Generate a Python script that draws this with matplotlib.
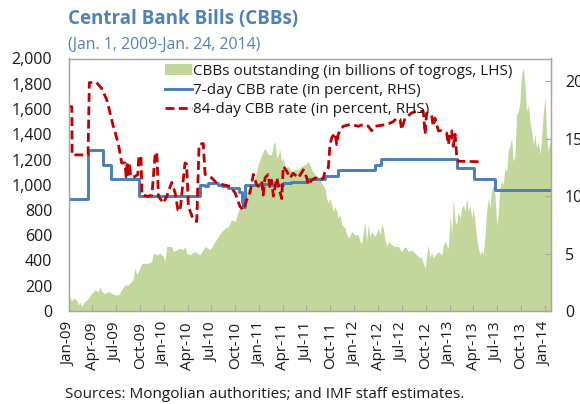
import matplotlib
matplotlib.use("Agg")
import matplotlib.pyplot as plt
import matplotlib.dates as mdates
import matplotlib.ticker as mticker
import pandas as pd

plt.rcParams['font.family'] = ['Open Sans', 'DejaVu Sans']

# CBBs outstanding (billions of togrogs, LHS)
cbb_dates = [
    "2009-01-01", "2009-01-11", "2009-01-18", "2009-01-30", "2009-02-06", "2009-02-12", "2009-02-19",
    "2009-02-25", "2009-03-03", "2009-03-16", "2009-03-29", "2009-04-11", "2009-04-23", "2009-04-30",
    "2009-05-06", "2009-05-19", "2009-06-01", "2009-06-14", "2009-06-26", "2009-07-09", "2009-07-22",
    "2009-08-04", "2009-08-16", "2009-08-29", "2009-09-05", "2009-09-11", "2009-09-18", "2009-09-30",
    "2009-10-07", "2009-11-01", "2009-11-14", "2009-11-20", "2009-12-03", "2009-12-16", "2009-12-29",
    "2010-01-04", "2010-01-11", "2010-01-30", "2010-02-05", "2010-02-18", "2010-03-03", "2010-03-15",
    "2010-03-22", "2010-03-28", "2010-04-10", "2010-04-29", "2010-05-18", "2010-06-07", "2010-06-26",
    "2010-07-15", "2010-07-28", "2010-08-10", "2010-08-22", "2010-09-04", "2010-09-17", "2010-09-30",
    "2010-10-12", "2010-10-25", "2010-11-07", "2010-11-20", "2010-12-03", "2010-12-15", "2010-12-28",
    "2011-01-10", "2011-01-23", "2011-02-04", "2011-02-17", "2011-02-24", "2011-03-02", "2011-03-09",
    "2011-03-15", "2011-03-21", "2011-03-28", "2011-04-03", "2011-04-10", "2011-04-22", "2011-05-05",
    "2011-05-18", "2011-05-31", "2011-06-13", "2011-06-25", "2011-07-08", "2011-07-21", "2011-08-03",
    "2011-08-15", "2011-08-28", "2011-09-10", "2011-09-16", "2011-09-23", "2011-09-29", "2011-10-06",
    "2011-10-12", "2011-10-18", "2011-10-25", "2011-10-31", "2011-11-07", "2011-11-13", "2011-11-26",
    "2011-12-02", "2011-12-09", "2011-12-21", "2012-01-03", "2012-01-16", "2012-01-22", "2012-01-29",
    "2012-02-10", "2012-02-17", "2012-02-23", "2012-03-01", "2012-03-07", "2012-03-20", "2012-04-02",
    "2012-04-08", "2012-04-14", "2012-04-21", "2012-04-27", "2012-05-04", "2012-05-10", "2012-05-23",
    "2012-06-04", "2012-06-17", "2012-06-30", "2012-07-13", "2012-07-26", "2012-08-07", "2012-08-20",
    "2012-09-02", "2012-09-15", "2012-09-28", "2012-10-10", "2012-10-17", "2012-10-23", "2012-10-29",
    "2012-11-05", "2012-11-18", "2012-12-01", "2012-12-07", "2012-12-13", "2012-12-26", "2013-01-02",
    "2013-01-08", "2013-01-14", "2013-01-21", "2013-01-27", "2013-02-02", "2013-02-09", "2013-02-15",
    "2013-02-22", "2013-02-28", "2013-03-07", "2013-03-13", "2013-03-19", "2013-03-26", "2013-04-01",
    "2013-04-07", "2013-04-14", "2013-04-20", "2013-04-27", "2013-05-03", "2013-05-09", "2013-05-16",
    "2013-05-22", "2013-05-28", "2013-06-04", "2013-06-10", "2013-06-17", "2013-06-23", "2013-06-30",
    "2013-07-06", "2013-07-12", "2013-07-19", "2013-07-25", "2013-07-31", "2013-08-07", "2013-08-13",
    "2013-08-20", "2013-08-26", "2013-09-01", "2013-09-08", "2013-09-14", "2013-09-21", "2013-09-27",
    "2013-10-03", "2013-10-10", "2013-10-16", "2013-10-22", "2013-10-29", "2013-11-04", "2013-11-11",
    "2013-11-17", "2013-11-23", "2013-11-30", "2013-12-06", "2013-12-13", "2013-12-19", "2013-12-25",
    "2014-01-01", "2014-01-07", "2014-01-13", "2014-01-20", "2014-01-24",
]
cbb_vals = [
    127, 74, 103, 87, 48, 70, 34,
    60, 74, 101, 140, 167, 153, 193,
    153, 140, 153, 140, 127, 127, 167,
    206, 206, 233, 259, 339, 286, 339,
    378, 378, 392, 458, 444, 458, 431,
    391, 511, 511, 471, 484, 498, 484,
    511, 458, 445, 471, 444, 511, 484,
    550, 590, 630, 656, 669, 722, 709,
    788, 841, 921, 974, 974, 1053, 1159,
    1238, 1291, 1238, 1238, 1318, 1344, 1212,
    1238, 1278, 1185, 1212, 1133, 1145, 1106,
    1120, 1120, 1145, 1159, 1185, 1120, 1080,
    1066, 1013, 974, 894, 855, 894, 841,
    788, 828, 788, 736, 762, 683, 656,
    616, 577, 630, 603, 603, 550, 537,
    709, 550, 683, 590, 630, 590, 656,
    603, 683, 656, 563, 511, 550, 524,
    511, 511, 471, 511, 471, 484, 458,
    431, 418, 340, 524, 418, 471, 418,
    444, 471, 444, 524, 550, 497, 762,
    603, 894, 709, 683, 788, 736, 815,
    841, 788, 894, 788, 841, 736, 815,
    709, 577, 498, 444, 484, 444, 603,
    788, 894, 815, 947, 1000, 920, 683,
    788, 974, 1026, 1000, 1133, 1106, 1264,
    1318, 1370, 1185, 1238, 1556, 1582, 1661,
    1873, 1926, 1794, 1582, 1635, 1503, 1423,
    1318, 1397, 1291, 1344, 1238, 1370, 1556,
    1700, 1397, 1264, 1344, 1291,
]

# 7-day CBB rate (percent, RHS), step changes
rate7_dates = [
    "2009-01-01", "2009-03-14", "2009-05-12", "2009-06-13", "2009-09-25", "2010-05-18", "2010-06-07",
    "2010-06-20", "2010-07-28", "2010-08-10", "2010-09-04", "2010-10-15", "2010-10-25", "2010-11-01",
    "2010-11-08", "2011-01-01", "2011-02-17", "2011-04-01", "2011-05-01", "2011-07-08", "2011-09-10",
    "2011-10-31", "2012-03-20", "2012-04-12", "2013-01-30", "2013-04-04", "2013-06-23", "2014-01-24",
]
rate7_vals = [
    9.75, 14.0, 12.75, 11.5, 10.0, 11.0, 10.9,
    11.15, 11.0, 10.85, 10.7, 10.4, 9.5, 9.1,
    11.0, 11.1, 11.0, 11.15, 11.25, 11.5, 11.8,
    12.25, 12.75, 13.25, 12.5, 11.5, 10.5, 10.5,
]

# 84-day CBB rate (percent, RHS)
rate84_dates = [
    "2009-01-01", "2009-01-12", "2009-01-13", "2009-03-15", "2009-03-20", "2009-04-17", "2009-05-06",
    "2009-05-26", "2009-06-20", "2009-07-09", "2009-07-22", "2009-08-04", "2009-08-08", "2009-08-12",
    "2009-08-17", "2009-08-21", "2009-08-26", "2009-09-10", "2009-09-22", "2009-09-26", "2009-10-04",
    "2009-10-08", "2009-11-01", "2009-11-15", "2009-11-28", "2009-12-04", "2009-12-10", "2009-12-29",
    "2010-01-11", "2010-01-30", "2010-02-12", "2010-02-23", "2010-03-03", "2010-03-22", "2010-03-28",
    "2010-04-04", "2010-04-23", "2010-05-06", "2010-05-15", "2010-05-31", "2010-06-07", "2010-07-02",
    "2010-07-22", "2010-08-16", "2010-09-11", "2010-09-30", "2010-10-19", "2010-11-01", "2010-11-14",
    "2010-11-26", "2010-12-09", "2010-12-22", "2010-12-28", "2011-01-10", "2011-01-16", "2011-01-23",
    "2011-02-04", "2011-02-11", "2011-02-17", "2011-02-24", "2011-03-09", "2011-03-21", "2011-03-28",
    "2011-04-03", "2011-04-16", "2011-04-29", "2011-05-11", "2011-05-31", "2011-06-19", "2011-07-02",
    "2011-07-08", "2011-07-21", "2011-08-03", "2011-08-22", "2011-09-04", "2011-09-10", "2011-09-23",
    "2011-09-29", "2011-10-06", "2011-10-18", "2011-10-25", "2011-10-31", "2011-11-07", "2011-11-19",
    "2011-12-15", "2012-01-16", "2012-02-04", "2012-02-23", "2012-03-07", "2012-03-20", "2012-05-04",
    "2012-05-29", "2012-06-11", "2012-06-24", "2012-06-30", "2012-07-13", "2012-08-07", "2012-08-26",
    "2012-09-21", "2012-09-28", "2012-10-04", "2012-10-23", "2012-10-29", "2012-11-05", "2012-11-18",
    "2012-12-01", "2012-12-20", "2012-12-26", "2013-01-02", "2013-01-08", "2013-01-14", "2013-01-21",
    "2013-01-27", "2013-02-02", "2013-05-03",
]
rate84_vals = [
    17.8, 17.8, 13.6, 13.6, 19.9, 19.9, 19.4,
    18.4, 16.1, 14.6, 12.9, 12.9, 11.7, 12.9,
    11.7, 12.9, 11.7, 11.7, 11.9, 13.5, 13.5,
    10.1, 10.0, 10.1, 13.8, 13.8, 10.0, 9.4,
    10.0, 11.2, 10.3, 8.8, 8.7, 12.9, 12.8,
    9.1, 7.95, 7.8, 14.5, 14.6, 11.9, 11.6,
    11.15, 11.0, 10.86, 10.3, 9.1, 8.8, 9.7,
    10.3, 11.9, 11.0, 10.86, 11.3, 10.1, 11.6,
    11.9, 10.7, 11.4, 10.0, 11.6, 10.4, 9.8,
    12.6, 12.2, 11.6, 12.0, 11.6, 12.3, 11.6,
    11.0, 11.4, 11.6, 11.4, 11.6, 12.2, 12.5,
    14.5, 15.1, 15.5, 14.5, 15.4, 15.7, 16.1,
    16.25, 16.1, 16.25, 16.1, 15.7, 16.1, 16.25,
    16.5, 16.8, 16.7, 15.8, 16.8, 17.25, 17.4,
    17.4, 15.4, 17.25, 17.1, 16.1, 16.8, 15.7,
    15.7, 15.5, 14.5, 15.4, 15.7, 14.35, 15.4,
    13.6, 13.05, 13.0,
]

green = "#c3d69b"
blue = "#4a7ebb"
red = "#c00000"
edge = "#a6a6a6"
title_blue = "#4f81bd"
txt = "#1a1a1a"

fig = plt.figure(figsize=(5.8, 4.04), dpi=100)
ax1 = fig.add_axes([69 / 580, 1 - 311 / 404, (551 - 69) / 580, (311 - 58.5) / 404])
ax2 = ax1.twinx()

x_cbb = pd.to_datetime(cbb_dates)
area = ax1.fill_between(x_cbb, 0, cbb_vals, color=green, lw=0,
                        label="CBBs outstanding (in billions of togrogs, LHS)")
l7, = ax2.plot(pd.to_datetime(rate7_dates), rate7_vals, color=blue, lw=2.1,
               drawstyle="steps-post", label="7-day CBB rate (in percent, RHS)")
l84, = ax2.plot(pd.to_datetime(rate84_dates), rate84_vals, color=red, lw=2.0,
                dashes=(3.2, 1.6), label="84-day CBB rate (in percent, RHS)")

ax1.set_xlim(pd.Timestamp("2009-01-01"), pd.Timestamp("2014-01-24"))
ax1.set_ylim(0, 2000)
ax1.set_yticks(range(0, 2001, 200))
ax1.yaxis.set_major_formatter(mticker.FuncFormatter(lambda v, p: f"{int(v):,}"))
ax2.set_ylim(0, 22)
ax2.set_yticks([0, 5, 10, 15, 20])

ax1.xaxis.set_major_locator(mdates.MonthLocator(bymonth=[1, 4, 7, 10]))
ax1.xaxis.set_major_formatter(mdates.DateFormatter("%b-%y"))
ax1.tick_params(axis="x", direction="in", length=4, color=edge, labelrotation=90,
                labelsize=11, pad=8, labelcolor=txt)
ax1.tick_params(axis="y", length=0, labelsize=11.5, pad=12, labelcolor=txt)
ax2.tick_params(axis="y", direction="in", length=4, color=edge, labelsize=11.5, pad=10,
                labelcolor=txt)

for ax in (ax1, ax2):
    for s in ax.spines.values():
        s.set_color(edge)
        s.set_linewidth(0.9)

leg = ax2.legend(handles=[area, l7, l84], loc="upper left",
                 bbox_to_anchor=(165 / 580, 1 - 64 / 404), bbox_transform=fig.transFigure,
                 frameon=False, fontsize=11, handlelength=1.75, handletextpad=0.1,
                 labelspacing=0.26, borderaxespad=0, borderpad=0)
for t in leg.get_texts():
    t.set_color(txt)

fig.text(68 / 580, 1 - 19 / 404, "Central Bank Bills (CBBs)", fontsize=13.5, fontweight="bold",
         color=title_blue, va="center", ha="left")
fig.text(68 / 580, 1 - 45 / 404, "(Jan. 1, 2009-Jan. 24, 2014)", fontsize=11.4, color=title_blue,
         va="center", ha="left")
fig.text(65 / 580, 1 - 395 / 404, "Sources: Mongolian authorities; and IMF staff estimates.",
         fontsize=11, color=txt, va="center", ha="left")

fig.savefig("out.png", dpi=100)
